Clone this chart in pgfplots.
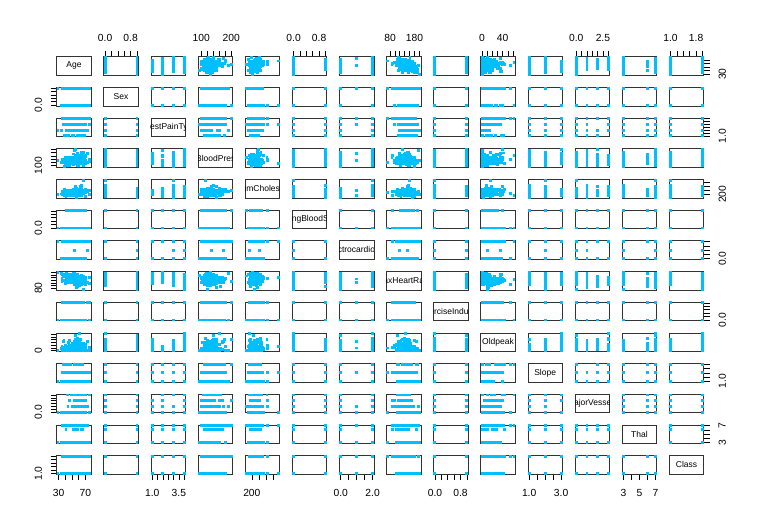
\documentclass[border=0pt]{standalone}
\usepackage{fontspec}
\setmainfont{Liberation Sans}
\usepackage{pgfplots}
\usepackage{pgfplotstable}
\pgfplotsset{compat=1.18}
\definecolor{skyc}{RGB}{0,191,255}
\pgfdeclareplotmark{sq}{\pgfpathrectangle{\pgfqpoint{-1.45pt}{-1.45pt}}{\pgfqpoint{2.9pt}{2.9pt}}\pgfusepathqfill}

\pgfplotstableread{
v1 v2 v3 v4 v5 v6 v7 v8 v9 v10 v11 v12 v13 v14
70 1 4 130 322 0 2 109 0 24 2 3 3 2
67 0 3 115 564 0 2 160 0 16 2 0 7 1
57 1 2 124 261 0 0 141 0 3 1 0 7 2
64 1 4 128 263 0 0 105 1 2 2 1 7 1
74 0 2 120 269 0 2 121 1 2 1 1 3 1
65 1 4 120 177 0 0 140 0 4 1 0 7 1
56 1 3 130 256 1 2 142 1 6 2 1 6 2
59 1 4 110 239 0 2 142 1 12 2 1 7 2
60 1 4 140 293 0 2 170 0 12 2 2 7 2
63 0 4 150 407 0 2 154 0 40 2 3 7 2
59 1 4 135 234 0 0 161 0 5 2 0 7 1
53 1 4 142 226 0 2 111 1 0 1 0 7 1
44 1 3 140 235 0 2 180 0 0 1 0 3 1
61 1 1 134 234 0 0 145 0 26 2 2 3 2
57 0 4 128 303 0 2 159 0 0 1 1 3 1
71 0 4 112 149 0 0 125 0 16 2 0 3 1
46 1 4 140 311 0 0 120 1 18 2 2 7 2
53 1 4 140 203 1 2 155 1 31 3 0 7 2
64 1 1 110 211 0 2 144 1 18 2 0 3 1
40 1 1 140 199 0 0 178 1 14 1 0 7 1
67 1 4 120 229 0 2 129 1 26 2 2 7 2
48 1 2 130 245 0 2 180 0 2 2 0 3 1
43 1 4 115 303 0 0 181 0 12 2 0 3 1
47 1 4 112 204 0 0 143 0 1 1 0 3 1
54 0 2 132 288 1 2 159 1 0 1 1 3 1
48 0 3 130 275 0 0 139 0 2 1 0 3 1
46 0 4 138 243 0 2 152 1 0 2 0 3 1
51 0 3 120 295 0 2 157 0 6 1 0 3 1
58 1 3 112 230 0 2 165 0 25 2 1 7 2
71 0 3 110 265 1 2 130 0 0 1 1 3 1
29 1 2 130 204 0 2 202 0 0 1 0 3 1
77 1 4 125 304 0 2 162 1 0 1 3 3 2
54 1 3 133 167 0 1 150 0 10 2 0 3 1
74 1 4 175 309 0 1 120 1 35 2 1 7 2
62 0 4 160 164 0 2 145 0 62 3 3 7 2
55 1 4 140 217 0 0 111 1 56 3 0 7 2
59 1 4 164 176 1 2 90 0 10 2 2 6 2
67 1 4 120 237 0 0 71 0 10 2 0 3 2
56 0 4 200 288 1 2 133 1 40 3 2 7 2
54 1 2 192 283 0 2 195 0 0 1 1 7 2
65 0 3 140 417 1 2 157 0 8 1 1 3 1
45 1 4 104 208 0 2 148 1 30 2 0 3 1
42 1 4 140 226 0 0 178 0 0 1 0 3 1
58 0 4 100 248 0 2 122 0 10 2 0 3 1
50 1 3 129 196 0 0 163 0 0 1 0 3 1
41 0 2 126 306 0 0 163 0 0 1 0 3 1
62 1 4 120 267 0 0 99 1 18 2 2 7 2
52 1 1 118 186 0 2 190 0 0 2 0 6 1
57 1 4 150 276 0 2 112 1 6 2 1 6 2
60 1 4 130 206 0 2 132 1 24 2 2 7 2
35 1 4 120 198 0 0 130 1 16 2 0 7 2
63 1 4 130 254 0 2 147 0 14 2 1 7 2
52 1 2 120 325 0 0 172 0 2 1 0 3 1
49 0 2 134 271 0 0 162 0 0 2 0 3 1
44 1 2 120 220 0 0 170 0 0 1 0 3 1
62 0 4 140 268 0 2 160 0 36 3 2 3 2
51 1 4 140 299 0 0 173 1 16 1 0 7 2
66 1 4 112 212 0 2 132 1 1 1 1 3 2
45 0 2 130 234 0 2 175 0 6 2 0 3 1
58 1 3 105 240 0 2 154 1 6 2 0 7 1
39 1 3 140 321 0 2 182 0 0 1 0 3 1
68 1 3 118 277 0 0 151 0 10 1 1 7 1
59 1 1 178 270 0 2 145 0 42 3 0 7 1
61 0 4 130 330 0 2 169 0 0 1 0 3 2
65 1 4 110 248 0 2 158 0 6 1 2 6 2
54 1 4 124 266 0 2 109 1 22 2 1 7 2
43 0 3 122 213 0 0 165 0 2 2 0 3 1
35 0 4 138 183 0 0 182 0 14 1 0 3 1
58 0 1 150 283 1 2 162 0 10 1 0 3 1
60 1 4 117 230 1 0 160 1 14 1 2 7 2
41 1 2 135 203 0 0 132 0 0 2 0 6 1
64 0 4 180 325 0 0 154 1 0 1 0 3 1
50 0 3 120 219 0 0 158 0 16 2 0 3 1
44 1 3 130 233 0 0 179 1 4 1 0 3 1
66 0 1 150 226 0 0 114 0 26 3 0 3 1
69 1 1 160 234 1 2 131 0 1 2 1 3 1
57 1 4 165 289 1 2 124 0 10 2 3 7 2
42 1 3 120 240 1 0 194 0 8 3 0 7 1
48 1 4 124 274 0 2 166 0 5 2 0 7 2
55 0 2 135 250 0 2 161 0 14 2 0 3 1
63 1 4 140 187 0 2 144 1 40 1 2 7 2
37 1 3 130 250 0 0 187 0 35 3 0 3 1
61 1 3 150 243 1 0 137 1 10 2 0 3 1
52 1 4 128 255 0 0 161 1 0 1 1 7 2
39 0 3 94 199 0 0 179 0 0 1 0 3 1
56 1 2 120 240 0 0 169 0 0 3 0 3 1
67 1 3 152 212 0 2 150 0 8 2 0 7 2
51 1 3 110 175 0 0 123 0 6 1 0 3 1
59 1 4 170 326 0 2 140 1 34 3 0 7 2
45 1 4 115 260 0 2 185 0 0 1 0 3 1
58 1 4 128 216 0 2 131 1 22 2 3 7 2
47 1 3 108 243 0 0 152 0 0 1 0 3 2
53 0 4 130 264 0 2 143 0 4 2 0 3 1
64 1 3 140 335 0 0 158 0 0 1 0 3 2
38 1 1 120 231 0 0 182 1 38 2 0 7 2
66 0 3 146 278 0 2 152 0 0 2 1 3 1
60 0 3 102 318 0 0 160 0 0 1 1 3 1
52 1 4 112 230 0 0 160 0 0 1 1 3 2
57 1 4 152 274 0 0 88 1 12 2 1 7 2
49 1 2 130 266 0 0 171 0 6 1 0 3 1
62 0 3 130 263 0 0 97 0 12 2 1 7 2
34 0 2 118 210 0 0 192 0 7 1 0 3 1
65 1 4 135 254 0 2 127 0 28 2 1 7 2
46 1 3 150 231 0 0 147 0 36 2 0 3 2
76 0 3 140 197 0 2 116 0 11 2 0 3 1
61 1 4 148 203 0 0 161 0 0 1 1 7 2
43 1 4 132 247 1 2 143 1 1 2 3 7 2
56 1 4 132 184 0 2 105 1 21 2 1 6 2
59 1 3 126 218 1 0 134 0 22 2 1 6 2
48 1 4 122 222 0 2 186 0 0 1 0 3 1
64 1 4 145 212 0 2 132 0 20 2 2 6 2
51 0 3 140 308 0 2 142 0 15 1 1 3 1
53 1 3 130 197 1 2 152 0 12 3 0 3 1
69 0 1 140 239 0 0 151 0 18 1 2 3 1
57 0 4 120 354 0 0 163 1 6 1 0 3 1
70 1 2 156 245 0 2 143 0 0 1 0 3 1
63 0 4 124 197 0 0 136 1 0 2 0 3 2
40 1 4 152 223 0 0 181 0 0 1 0 7 2
66 1 4 160 228 0 2 138 0 23 1 0 6 1
54 1 4 110 206 0 2 108 1 0 2 1 3 2
46 0 3 142 177 0 2 160 1 14 3 0 3 1
45 1 1 110 264 0 0 132 0 12 2 0 7 2
68 1 3 180 274 1 2 150 1 16 2 0 7 2
58 1 4 114 318 0 2 140 0 44 3 3 6 2
57 1 3 150 126 1 0 173 0 2 1 1 7 1
48 1 2 110 229 0 0 168 0 10 3 0 7 2
61 1 4 138 166 0 2 125 1 36 2 1 3 2
67 1 4 100 299 0 2 125 1 9 2 2 3 2
42 0 4 102 265 0 2 122 0 6 2 0 3 1
54 1 4 122 286 0 2 116 1 32 2 2 3 2
65 0 3 160 360 0 2 151 0 8 1 0 3 1
41 1 2 120 157 0 0 182 0 0 1 0 3 1
56 0 4 134 409 0 2 150 1 19 2 2 7 2
58 0 4 170 225 1 2 146 1 28 2 2 6 2
71 0 2 160 302 0 0 162 0 4 1 2 3 1
66 1 2 160 246 0 0 120 1 0 2 3 6 2
60 1 3 140 185 0 2 155 0 30 2 0 3 2
52 1 4 108 233 1 0 147 0 1 1 3 7 1
55 1 4 132 353 0 0 132 1 12 2 1 7 2
50 1 4 150 243 0 2 128 0 26 2 0 7 2
46 1 2 101 197 1 0 156 0 0 1 0 7 1
67 0 3 152 277 0 0 172 0 0 1 1 3 1
44 1 4 112 290 0 2 153 0 0 1 1 3 2
51 1 1 125 213 0 2 125 1 14 1 1 3 1
65 1 1 138 282 1 2 174 0 14 2 1 3 2
40 1 4 110 167 0 2 114 1 20 2 0 7 2
69 1 3 140 254 0 2 146 0 20 2 3 7 2
52 1 3 172 199 1 0 162 0 5 1 0 7 1
58 1 3 140 211 1 2 165 0 0 1 0 3 1
60 1 4 125 258 0 2 141 1 28 2 1 7 2
54 0 3 110 214 0 0 158 0 16 2 0 3 1
50 1 4 144 200 0 2 126 1 9 2 0 7 2
37 0 3 120 215 0 0 170 0 0 1 0 3 1
55 1 4 160 289 0 2 145 1 8 2 1 7 2
42 1 3 130 180 0 0 150 0 0 1 0 3 1
47 1 3 138 257 0 2 156 0 0 1 0 3 1
44 1 4 110 197 0 2 177 0 0 1 1 3 2
58 1 4 146 218 0 0 105 0 20 2 1 7 2
62 1 2 128 208 1 2 140 0 0 1 0 3 1
55 0 2 132 342 0 0 166 0 12 1 0 3 1
60 1 4 145 282 0 2 142 1 28 2 2 7 2
51 1 3 125 245 1 2 166 0 24 2 0 3 1
52 1 1 152 298 1 0 178 0 12 2 0 7 1
39 1 4 118 219 0 0 140 0 12 2 0 7 2
59 1 3 150 212 1 0 157 0 16 1 0 3 1
50 0 2 120 244 0 0 162 0 11 1 0 3 1
56 1 2 130 221 0 2 163 0 0 1 0 7 1
63 1 4 130 330 1 2 132 1 18 1 3 7 2
44 1 2 130 219 0 2 188 0 0 1 0 3 1
57 1 4 110 335 0 0 143 1 30 2 1 7 2
47 1 3 130 253 0 0 179 0 0 1 0 3 1
59 1 4 138 271 0 2 182 0 0 1 0 3 1
53 0 4 138 234 0 2 160 0 0 1 0 3 1
49 1 4 120 188 0 0 139 0 20 2 3 7 2
62 0 4 150 244 0 0 154 1 14 2 0 3 2
35 1 4 126 282 0 2 156 1 0 1 0 7 2
43 1 4 150 247 0 0 171 0 15 1 0 3 1
45 0 4 138 236 0 2 152 1 2 2 0 3 1
61 1 4 120 260 0 0 140 1 36 2 1 7 2
38 1 3 138 175 0 0 173 0 0 1 0 3 1
54 1 4 120 188 0 0 113 0 14 2 1 7 2
57 1 2 154 232 0 2 164 0 0 1 1 3 2
58 0 4 130 197 0 0 131 0 6 2 0 3 1
60 0 1 150 240 0 0 171 0 9 1 0 3 1
56 1 4 125 249 1 2 144 1 12 2 1 3 2
59 1 4 140 177 0 0 162 1 0 1 1 7 2
55 1 2 130 262 0 0 155 0 0 1 0 3 1
41 1 2 110 235 0 0 153 0 0 1 0 3 1
}\data

\def\vmin{{29,0,1,94,126,0,0,71,0,0,1,0,3,1}}
\def\vmax{{77,1,4,200,564,1,2,202,1,62,3,3,7,2}}
\def\vnames{{"Age","Sex","ChestPainType","RestBloodPressure","SerumCholestoral","FastingBloodSugar","ResElectrocardiographic","MaxHeartRate","ExerciseInduced","Oldpeak","Slope","MajorVessels","Thal","Class"}}

\pgfplotsset{
 panel/.style={
  scale only axis, width=34.5pt, height=18.5pt, anchor=south west,
  axis line style={black!80, line width=0.7pt},
  tick align=outside, major tick length=6pt,
  tick style={black, line width=0.6pt},
  ticklabel style={font=\fontsize{10.3}{12}\selectfont},
  xticklabel shift=5.3pt, yticklabel shift=5.3pt,
  scaled ticks=false,
  /pgf/number format/assume math mode=true,
 },
 pts/.style={only marks, mark=sq, color=skyc, mark options={fill=skyc, draw=none}},
 vx1/.style={xtick={30,40,50,60,70}, xticklabels={30,{},{},{},70}},
 vy1/.style={ytick={30,40,50,60,70}, yticklabels={30,{},{},{},{}}},
 vx2/.style={xtick={0,0.2,0.4,0.6,0.8,1}, xticklabels={0.0,{},{},{},0.8,{}}},
 vy2/.style={ytick={0,0.2,0.4,0.6,0.8,1}, yticklabels={0.0,{},{},{},{},{}}},
 vx3/.style={xtick={1,1.5,2,2.5,3,3.5,4}, xticklabels={1.0,{},{},{},{},3.5,{}}},
 vy3/.style={ytick={1,1.5,2,2.5,3,3.5,4}, yticklabels={1.0,{},{},{},{},{},{}}},
 vx4/.style={xtick={100,120,140,160,180,200}, xticklabels={100,{},{},{},{},200}},
 vy4/.style={ytick={100,120,140,160,180,200}, yticklabels={100,{},{},{},{},{}}},
 vx5/.style={xtick={200,300,400,500}, xticklabels={200,{},{},{}}},
 vy5/.style={ytick={200,300,400,500}, yticklabels={200,{},{},{}}},
 vx6/.style={vx2}, vy6/.style={vy2},
 vx7/.style={xtick={0,0.5,1,1.5,2}, xticklabels={0.0,{},{},{},2.0}},
 vy7/.style={ytick={0,0.5,1,1.5,2}, yticklabels={0.0,{},{},{},{}}},
 vx8/.style={xtick={80,100,120,140,160,180,200}, xticklabels={80,{},{},{},{},180,{}}},
 vy8/.style={ytick={80,100,120,140,160,180,200}, yticklabels={80,{},{},{},{},{},{}}},
 vx9/.style={vx2}, vy9/.style={vy2},
 vx10/.style={xtick={0,10,20,30,40,50,60}, xticklabels={0,{},{},{},40,{},{}}},
 vy10/.style={ytick={0,10,20,30,40,50,60}, yticklabels={0,{},{},{},{},{},{}}},
 vx11/.style={xtick={1,1.5,2,2.5,3}, xticklabels={1.0,{},{},{},3.0}},
 vy11/.style={ytick={1,1.5,2,2.5,3}, yticklabels={1.0,{},{},{},{}}},
 vx12/.style={xtick={0,0.5,1,1.5,2,2.5,3}, xticklabels={0.0,{},{},{},{},2.5,{}}},
 vy12/.style={ytick={0,0.5,1,1.5,2,2.5,3}, yticklabels={0.0,{},{},{},{},{},{}}},
 vx13/.style={xtick={3,4,5,6,7}, xticklabels={3,{},5,{},7}},
 vy13/.style={ytick={3,4,5,6,7}, yticklabels={3,{},{},{},7}},
 vx14/.style={xtick={1,1.2,1.4,1.6,1.8,2}, xticklabels={1.0,{},{},{},1.8,{}}},
 vy14/.style={ytick={1,1.2,1.4,1.6,1.8,2}, yticklabels={1.0,{},{},{},{},{}}},
}

\def\diagbody{\node[inner sep=0pt, minimum width=34.5pt, minimum height=18.5pt,
  path picture={\node[font=\fontsize{8.5}{10}\selectfont] at (path picture bounding box.center) {\lbl};}]
  at (rel axis cs:0.5,0.5) {};}
\def\scatbody{\edef\tmp{\noexpand\addplot[pts] table[x=v\c, y=v\r] {\noexpand\data};}\tmp}

\begin{document}
\begin{tikzpicture}
\useasboundingbox (0,0) rectangle (761pt,531pt);
\foreach \r in {1,...,14}{
 \foreach \c in {1,...,14}{
  \pgfmathsetmacro\xlo{\vmin[\c-1]-0.04*(\vmax[\c-1]-\vmin[\c-1])}
  \pgfmathsetmacro\xhi{\vmax[\c-1]+0.04*(\vmax[\c-1]-\vmin[\c-1])}
  \pgfmathsetmacro\ylo{\vmin[\r-1]-0.04*(\vmax[\r-1]-\vmin[\r-1])}
  \pgfmathsetmacro\yhi{\vmax[\r-1]+0.04*(\vmax[\r-1]-\vmin[\r-1])}
  \pgfmathsetmacro\px{56.7+47.12*(\c-1)}
  \pgfmathsetmacro\py{531-(56.7+30.69*(\r-1)+18.5)}
  \pgfmathparse{\vnames[\c-1]}\let\lbl\pgfmathresult
  \def\xo{xtick=\noexpand\empty}
  \def\yo{ytick=\noexpand\empty}
  \ifnum\r=1 \ifodd\c\relax\else \def\xo{vx\c, xtick pos=right, xticklabel pos=right}\fi\fi
  \ifnum\r=14 \ifodd\c\relax \def\xo{vx\c, xtick pos=left, xticklabel pos=left}\fi\fi
  \ifnum\c=1 \ifodd\r\relax\else \def\yo{vy\r, ytick pos=left, yticklabel pos=left, yticklabel style={rotate=90, anchor=south}}\fi\fi
  \ifnum\c=14 \ifodd\r\relax \def\yo{vy\r, ytick pos=right, yticklabel pos=right, yticklabel style={rotate=90, anchor=north}}\fi\fi
  \ifnum\r=\c \let\body\diagbody \else \let\body\scatbody \fi
  \edef\doaxis{\noexpand\begin{axis}[panel, at={(\px pt,\py pt)}, xmin=\xlo, xmax=\xhi, ymin=\ylo, ymax=\yhi, \xo, \yo]}
  \doaxis
  \body
  \end{axis}
 }
}
\end{tikzpicture}
\end{document}
